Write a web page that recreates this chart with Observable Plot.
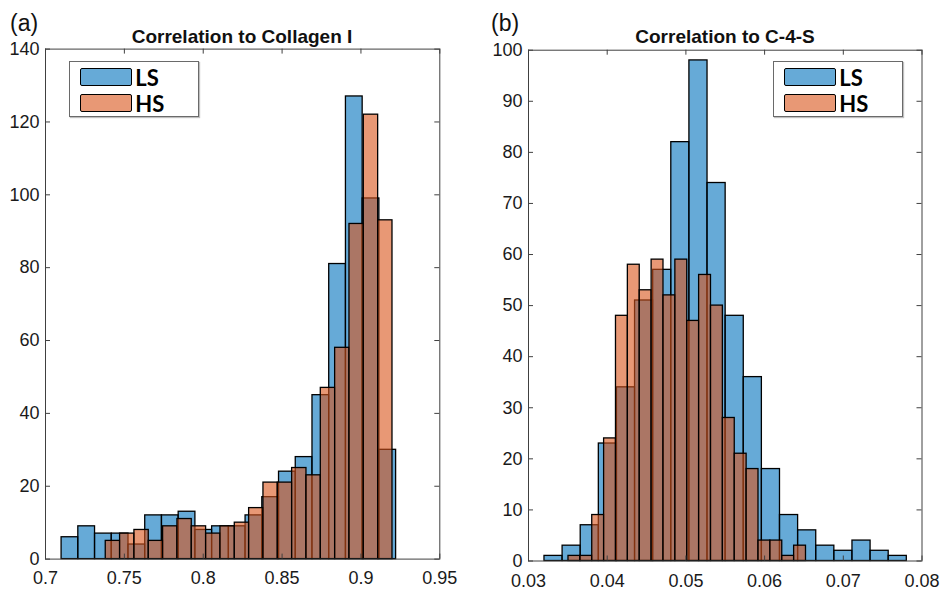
<!DOCTYPE html>
<html>
<head>
<meta charset="utf-8">
<script src="https://cdn.jsdelivr.net/npm/d3@7"></script>
<script src="https://cdn.jsdelivr.net/npm/@observablehq/plot@0.6"></script>
<style>
  html, body { margin: 0; padding: 0; background: #fff; }
  #wrap { position: relative; width: 940px; height: 591px; overflow: hidden; font-family: "Liberation Sans", Arial, sans-serif; }
  .panel { position: absolute; top: 0; }
  .tag { position: absolute; font-size: 23px; color: #111; line-height: 1; }
  .title { position: absolute; font-size: 19px; font-weight: bold; color: #111; white-space: nowrap; transform: translateX(-50%); line-height: 1; }
  .legend { position: absolute; border: 1.5px solid #6a6a6a; background: #fff; box-sizing: border-box; box-shadow: 1px 1px 1px rgba(0,0,0,0.25); }
  .sw { position: absolute; border: 1.6px solid #000; border-radius: 2px; box-sizing: border-box; }
  .lab { position: absolute; font-family: Lato, "Liberation Sans", sans-serif; font-weight: bold; font-size: 22px; color: #000; line-height: 1; }
</style>
</head>
<body>
<div id="wrap"></div>
<script>
// ---------- data ----------
// Panel (a): Correlation to Collagen I — 20-bin histograms
const lsCountsA = [6, 9, 7, 7, 4, 12, 12, 13, 8, 9, 9, 12, 17, 24, 28, 45, 81, 127, 99, 30];
const hsCountsA = [5, 7, 8, 5, 9, 11, 9, 7, 9, 10, 14, 21, 21, 25, 23, 47, 58, 92, 122, 93];
const lsRangeA = [0.7102, 0.9223];
const hsRangeA = [0.7382, 0.9200];
const xTicksA = [0.7, 0.75, 0.8, 0.85, 0.9, 0.95];
const xLabelsA = ["0.7", "0.75", "0.8", "0.85", "0.9", "0.95"];
const yTicksA = [0, 20, 40, 60, 80, 100, 120, 140];

// Panel (b): Correlation to C-4-S — 20-bin histograms
const lsCountsB = [1, 3, 7, 23, 34, 51, 57, 82, 98, 74, 48, 36, 18, 9, 6, 3, 2, 4, 2, 1];
const hsCountsB = [1, 1, 9, 24, 48, 58, 53, 59, 52, 59, 47, 56, 50, 28, 21, 18, 4, 4, 1, 3];
const lsRangeB = [0.03203, 0.07807];
const hsRangeB = [0.03508, 0.06526];
const xTicksB = [0.03, 0.04, 0.05, 0.06, 0.07, 0.08];
const xLabelsB = ["0.03", "0.04", "0.05", "0.06", "0.07", "0.08"];
const yTicksB = [0, 10, 20, 30, 40, 50, 60, 70, 80, 90, 100];

const seriesNames = ["LS", "HS"];
const seriesColors = ["#0072BD", "#D95319"];
const titles = ["Correlation to Collagen I", "Correlation to C-4-S"];
const tags = ["(a)", "(b)"];

// ---------- helpers ----------
function bins(counts, range) {
  const w = (range[1] - range[0]) / counts.length;
  return counts.map((c, i) => ({x1: range[0] + i * w, x2: range[0] + (i + 1) * w, count: c}));
}

function panel(cfg) {
  const H = 591, W = 470;
  const plotW = W - cfg.ml - cfg.mr, plotH = H - cfg.mt - cfg.mb;
  const axisColor = "#404040";
  const tk = 5;
  return Plot.plot({
    width: W, height: H,
    marginLeft: cfg.ml, marginRight: cfg.mr, marginTop: cfg.mt, marginBottom: cfg.mb,
    style: {fontFamily: "'Liberation Sans', Arial, sans-serif", fontSize: "18px", color: "#1a1a1a", background: "transparent", overflow: "visible"},
    x: {domain: cfg.xDomain, label: null},
    y: {domain: cfg.yDomain, label: null},
    marks: [
      Plot.rectY(bins(cfg.ls, cfg.lsRange), {x1: "x1", x2: "x2", y: "count", fill: seriesColors[0], fillOpacity: 0.6, stroke: "#000", strokeWidth: 1.3}),
      Plot.rectY(bins(cfg.hs, cfg.hsRange), {x1: "x1", x2: "x2", y: "count", fill: seriesColors[1], fillOpacity: 0.6, stroke: "#000", strokeWidth: 1.3}),
      Plot.frame({stroke: axisColor, strokeWidth: 1}),
      Plot.tickX(cfg.xTicks, {x: d => d, stroke: axisColor, insetTop: plotH - tk}),
      Plot.tickX(cfg.xTicks, {x: d => d, stroke: axisColor, insetBottom: plotH - tk}),
      Plot.tickY(cfg.yTicks, {y: d => d, stroke: axisColor, insetRight: plotW - tk}),
      Plot.tickY(cfg.yTicks, {y: d => d, stroke: axisColor, insetLeft: plotW - tk}),
      Plot.axisX({anchor: "bottom", ticks: cfg.xTicks, tickSize: 0, tickPadding: cfg.xPad, label: null,
        tickFormat: d => cfg.xLabels[cfg.xTicks.findIndex(t => Math.abs(t - d) < 1e-9)]}),
      Plot.axisY({anchor: "left", ticks: cfg.yTicks, tickSize: 0, tickPadding: 6, label: null, tickFormat: d => String(d)})
    ]
  });
}

const wrap = document.getElementById("wrap");

const cfgs = [
  {left: 0, ml: 45, mr: 30.7, mt: 48.6, mb: 32.4, xDomain: [0.7, 0.95], yDomain: [0, 140],
   ls: lsCountsA, hs: hsCountsA, lsRange: lsRangeA, hsRange: hsRangeA,
   xTicks: xTicksA, xLabels: xLabelsA, yTicks: yTicksA, xPad: 12,
   tagX: 10, titleX: 242, legend: {x: 69.3, y: 61}},
  {left: 470, ml: 58, mr: 18.5, mt: 49.7, mb: 30.5, xDomain: [0.03, 0.08], yDomain: [0, 100],
   ls: lsCountsB, hs: hsCountsB, lsRange: lsRangeB, hsRange: hsRangeB,
   xTicks: xTicksB, xLabels: xLabelsB, yTicks: yTicksB, xPad: 13.2,
   tagX: 491, titleX: 725, legend: {x: 773.3, y: 61}}
];

cfgs.forEach((cfg, k) => {
  const svg = panel(cfg);
  svg.classList.add("panel");
  svg.style.left = cfg.left + "px";
  wrap.appendChild(svg);

  const tag = document.createElement("div");
  tag.className = "tag";
  tag.textContent = tags[k];
  tag.style.left = cfg.tagX + "px";
  tag.style.top = "12px";
  wrap.appendChild(tag);

  const t = document.createElement("div");
  t.className = "title";
  t.textContent = titles[k];
  t.style.left = cfg.titleX + "px";
  t.style.top = "27px";
  wrap.appendChild(t);

  const lg = document.createElement("div");
  lg.className = "legend";
  lg.style.left = cfg.legend.x + "px";
  lg.style.top = cfg.legend.y + "px";
  lg.style.width = "130px";
  lg.style.height = "56px";
  wrap.appendChild(lg);
  seriesNames.forEach((name, i) => {
    const sw = document.createElement("div");
    sw.className = "sw";
    sw.style.left = "10px";
    sw.style.top = (6 + i * 25.7) + "px";
    sw.style.width = "52px";
    sw.style.height = "18px";
    sw.style.backgroundColor = i === 0 ? "rgba(0,114,189,0.6)" : "rgba(217,83,25,0.6)";
    lg.appendChild(sw);
    const lb = document.createElement("div");
    lb.className = "lab";
    lb.textContent = name;
    lb.style.left = "65px";
    lb.style.top = (5 + i * 25.7) + "px";
    lg.appendChild(lb);
  });
});
</script>
</body>
</html>
